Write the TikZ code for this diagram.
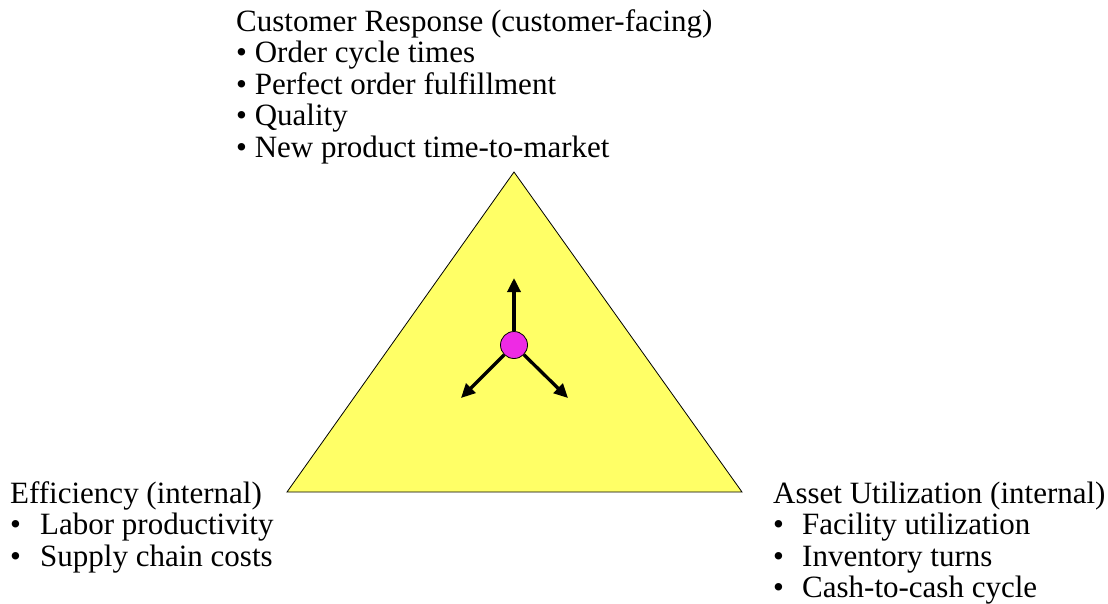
\documentclass[tikz,border=0pt]{standalone}
\usepackage{fontspec}
\setmainfont{Liberation Serif}
\usepackage{tikz}
\usetikzlibrary{arrows.meta}
\definecolor{triyellow}{HTML}{FFFF66}
\definecolor{dotmagenta}{HTML}{EE2AE4}
\newcommand{\tabbullet}[1]{\makebox[#1][l]{\textbullet}}

\begin{document}
\begin{tikzpicture}[x=1pt,y=-1pt,
	goal/.style={anchor=base west,inner sep=0pt,align=left,font=\fontsize{31}{31.5}\selectfont},
	pull/.style={line width=3.3pt,-{Triangle[length=14pt,width=13pt]}}]
\useasboundingbox (0,0) rectangle (1108,603);

\coordinate (apex) at (514,172);
\coordinate (leftcorner) at (287,492);
\coordinate (rightcorner) at (742,492);
\draw[fill=triyellow,line width=0.8pt] (apex) -- (leftcorner) -- (rightcorner) -- cycle; % triangle

\node[circle,draw,line width=0.8pt,fill=dotmagenta,minimum size=27pt,inner sep=0pt] (dot) at (514,345) {};
\coordinate (uptip) at (514,278);
\coordinate (lefttip) at (461,398);
\coordinate (righttip) at (568,398);
\draw[pull] (dot) -- (uptip);
\draw[pull] (dot) -- (lefttip);
\draw[pull] (dot) -- (righttip);

% base anchor sits on the last line
\node[goal] (response) at (236,157) {Customer Response (customer-facing)\\
	\textbullet{} Order cycle times\\
	\textbullet{} Perfect order fulfillment\\
	\textbullet{} Quality\\
	\textbullet{} New product time-to-market};
\node[goal] (efficiency) at (10,566) {Efficiency (internal)\\
	\tabbullet{30pt}Labor productivity\\
	\tabbullet{30pt}Supply chain costs};
\node[goal] (assets) at (773,597.5) {Asset Utilization (internal)\\
	\tabbullet{29pt}Facility utilization\\
	\tabbullet{29pt}Inventory turns\\
	\tabbullet{29pt}Cash-to-cash cycle};

\end{tikzpicture}
\end{document}
